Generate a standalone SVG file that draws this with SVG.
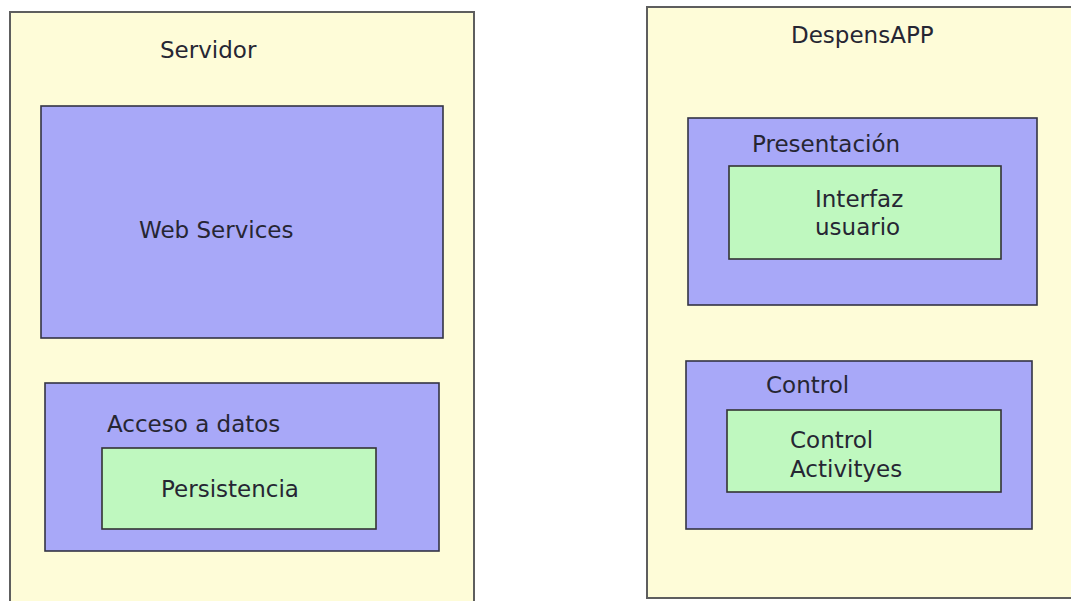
<svg xmlns="http://www.w3.org/2000/svg" width="1071" height="601" viewBox="0 0 1071 601">
<style>
.outer{fill:#fefcd8;stroke:#5e5e5e;stroke-width:2}
.layer{fill:#a8a8f8;stroke:#333344;stroke-width:1.6}
.comp{fill:#bff8bf;stroke:#333333;stroke-width:1.6}
text{font-family:"DejaVu Sans","Verdana",sans-serif;font-size:23px;fill:#262633}
</style>
<rect width="1071" height="601" fill="#ffffff"/>
<g id="servidor">
<rect class="outer" x="10" y="12" width="464" height="600"/>
<text x="160" y="58">Servidor</text>
</g>
<g id="web-services">
<rect class="layer" x="41" y="106" width="402" height="232"/>
<text x="139" y="238">Web Services</text>
</g>
<g id="acceso-datos">
<rect class="layer" x="45" y="383" width="394" height="168"/>
<text x="107" y="432">Acceso a datos</text>
</g>
<g id="persistencia">
<rect class="comp" x="102" y="448" width="274" height="81"/>
<text x="161" y="497">Persistencia</text>
</g>
<g id="despensapp">
<rect class="outer" x="647" y="7" width="440" height="591"/>
<text x="791" y="43">DespensAPP</text>
</g>
<g id="presentacion">
<rect class="layer" x="688" y="118" width="349" height="187"/>
<text x="752" y="152">Presentación</text>
</g>
<g id="interfaz-usuario">
<rect class="comp" x="729" y="166" width="272" height="93"/>
<text x="815" y="207">Interfaz</text>
<text x="815" y="235">usuario</text>
</g>
<g id="control">
<rect class="layer" x="686" y="361" width="346" height="168"/>
<text x="766" y="393">Control</text>
</g>
<g id="control-activityes">
<rect class="comp" x="727" y="410" width="274" height="82"/>
<text x="790" y="448">Control</text>
<text x="790" y="477">Activityes</text>
</g>
<g id="connectors"></g>
</svg>
